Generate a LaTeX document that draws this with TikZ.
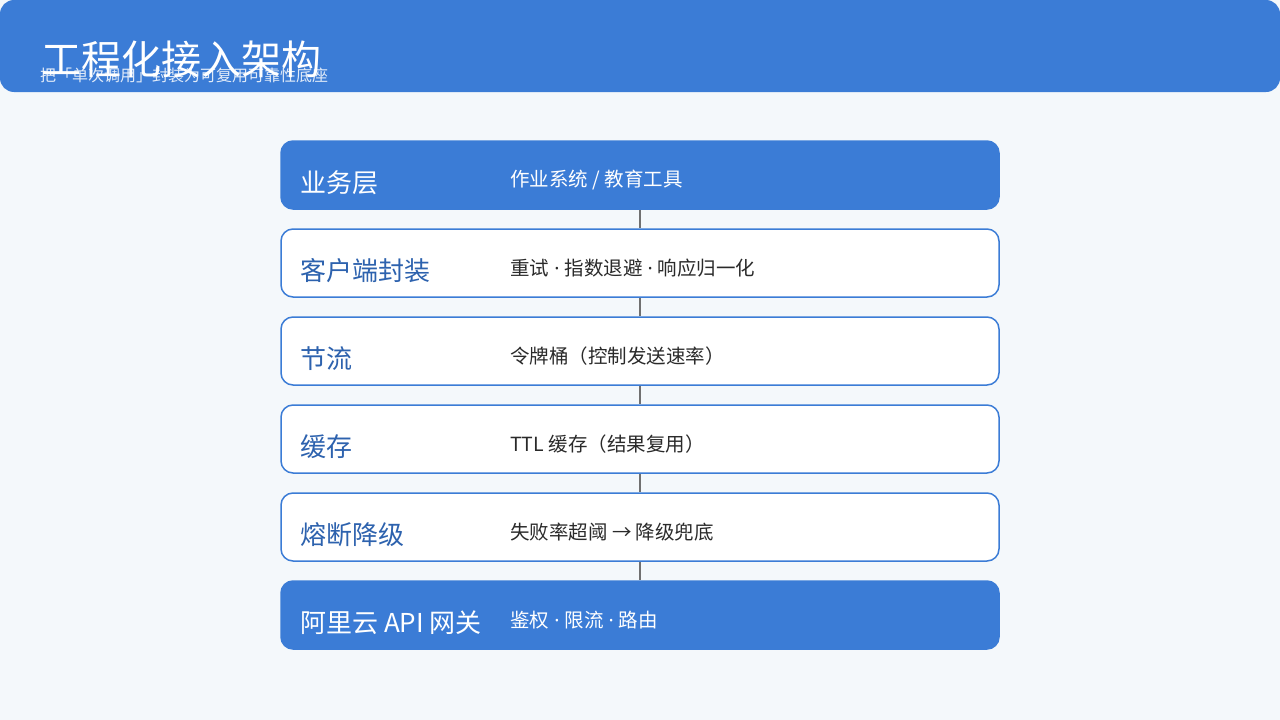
\documentclass[tikz,border=0pt]{standalone}
\usepackage{fontspec}
\setmainfont{Noto Sans CJK SC}
\newfontfamily\dotfont{Noto Sans}
\newcommand{\md}{{\dotfont\ ·\ }}
\definecolor{mainblue}{HTML}{3B7CD6}
\definecolor{darkblue}{HTML}{2D62AE}
\definecolor{pagebg}{HTML}{F4F8FB}
\definecolor{desctext}{HTML}{2A2A2A}
\definecolor{linkgray}{HTML}{707070}
\tikzset{
	fillbox/.style={fill=mainblue, draw=mainblue, line width=1.5pt, rounded corners=12pt, minimum width=718pt, minimum height=68pt},
	linebox/.style={fill=white, draw=mainblue, line width=1.5pt, rounded corners=12pt, minimum width=718pt, minimum height=68pt},
	fillboxname/.style={text=white, font=\fontsize{26}{30}\selectfont},
	lineboxname/.style={text=darkblue, font=\fontsize{26}{30}\selectfont},
	fillboxdesc/.style={text=white, font=\fontsize{19.5}{23}\selectfont},
	lineboxdesc/.style={text=desctext, font=\fontsize{19.5}{23}\selectfont},
}
\begin{document}
\begin{tikzpicture}[x=1pt, y=-1pt]
		\fill[pagebg] (0,0) rectangle (1280,720);
		\useasboundingbox (0,0) rectangle (1280,720);
		% header
		\fill[mainblue, rounded corners=14pt] (0,0) rectangle (1280,92);
		\node[anchor=west, inner sep=0pt, text=white, font=\fontsize{40}{44}\selectfont] (title) at (41,59) {工程化接入架构};
		\node[anchor=west, inner sep=0pt, text=white, opacity=0.85, font=\fontsize{16}{18}\selectfont] (subtitle) at (40,75) {把「单次调用」封装为可复用可靠性底座};
		% layers
		\foreach \i/\top/\name/\desc/\st in {
			1/140/业务层/{作业系统 / 教育工具}/fillbox,
			2/228/客户端封装/{重试\md 指数退避\md 响应归一化}/linebox,
			3/316/节流/{令牌桶（控制发送速率）}/linebox,
			4/404/缓存/{TTL 缓存（结果复用）}/linebox,
			5/492/熔断降级/{失败率超阈 → 降级兜底}/linebox,
			6/580/阿里云 API 网关/{鉴权\md 限流\md 路由}/fillbox}{
			\node[\st] (b\i) at (640,\top+35) {};
			\node[\st name, anchor=west, inner sep=0pt] (n\i) at (300,\top+43) {\name};
			\node[\st desc, anchor=west, inner sep=0pt] (d\i) at (510,\top+40) {\desc};
		}
		\foreach \i [evaluate=\i as \j using int(\i+1)] in {1,...,5}{
			\draw[linkgray, line width=2.2pt] (b\i.south) -- (b\j.north);
		}
		\end{tikzpicture}
\end{document}
